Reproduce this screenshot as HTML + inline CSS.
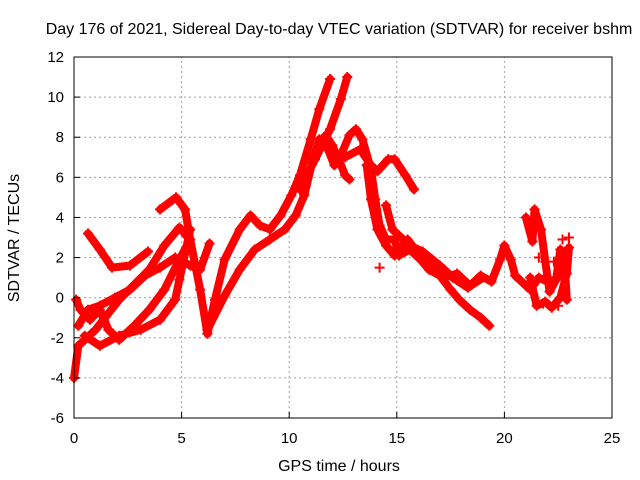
<!DOCTYPE html>
<html><head><meta charset="utf-8"><style>
body{margin:0;background:#fff}
svg{display:block;font-family:"Liberation Sans",sans-serif}
</style></head><body>
<svg id="chart" width="640" height="480" viewBox="0 0 640 480" xmlns="http://www.w3.org/2000/svg">
<rect width="640" height="480" fill="#fff"/>
<text x="339" y="34" text-anchor="middle" font-size="16">Day 176 of 2021, Sidereal Day-to-day VTEC variation (SDTVAR) for receiver bshm</text>
<text x="339" y="471" text-anchor="middle" font-size="16">GPS time / hours</text>
<text transform="translate(19,238) rotate(-90)" text-anchor="middle" font-size="16">SDTVAR / TECUs</text>
<g id="grid"></g><g id="marks"></g><g id="axes"></g>
</svg>
<script>
const xTicks=[0,5,10,15,20,25];
const yTicks=[-6,-4,-2,0,2,4,6,8,10,12];
const seriesA=[[0.65,3.2],[1.2,2.4],[1.77,1.5],[2.6,1.6],[3.44,2.3]];
const seriesB=[[0,-4],[0.2,-2.4],[1,-1.6],[2.1,-0.1],[3.5,1.4],[4.2,2.6],[4.9,3.5],[5.3,3.0]];
const seriesN=[[4.0,4.4],[4.74,5.0],[5.16,4.4],[5.4,2.9],[5.86,0.4],[6.2,-1.8],[6.55,-0.1],[7.0,1.9],[7.7,3.4],[8.2,4.1],[8.64,3.6],[9.1,3.4],[9.6,4.1],[10.1,5.1],[10.5,6.1],[11.0,7.9],[11.4,9.4],[11.9,10.9]];
const seriesC=[[0.1,-0.1],[0.3,-0.6],[0.74,-1.1],[1.2,-0.6],[1.6,-1.6],[2.1,-2.1],[2.8,-1.4],[3.5,-0.6],[4.2,0.4],[4.9,1.9],[5.4,2.9]];
const seriesD=[[0.2,-1.4],[0.65,-0.6],[1.2,-0.4],[1.9,0],[2.6,0.4],[3.3,1.1],[4.0,1.5],[4.7,2.0],[5.4,1.6],[5.86,1.4],[6.3,2.7]];
const seriesE=[[0.5,-1.9],[1.2,-2.4],[2.1,-1.9],[3.1,-1.6],[4.0,-1.1],[4.7,-0.1],[4.9,0.9],[5.2,2.4],[5.4,3.4]];
const seriesF=[[6.2,-1.6],[7.0,0.1],[7.7,1.4],[8.4,2.4],[9.1,2.9],[9.8,3.4],[10.3,4.1],[10.7,5.1],[11.1,6.9],[11.4,7.9],[11.8,7.4],[12.1,6.6],[12.4,7.1],[12.8,8.1],[13.1,8.4],[13.4,7.9],[13.8,6.4],[14.0,4.9],[14.2,3.6],[14.5,2.9],[14.9,2.9],[15.1,2.1],[15.6,2.4],[16.1,1.9],[16.5,1.4],[17.0,1.1],[17.5,0.4],[17.9,-0.1],[18.4,-0.6],[18.9,-1.0],[19.3,-1.4]];
const seriesG=[[10.5,5.4],[11.2,6.9],[11.9,8.4],[12.4,9.9],[12.7,11.0]];
const seriesH=[[11.3,7.4],[11.7,8.1],[12.0,7.6],[12.3,6.9],[12.6,6.1],[12.8,5.9]];
const seriesI=[[12.6,7.0],[13.3,7.4],[13.8,6.6],[14.1,6.3],[14.6,6.9],[14.9,6.9],[15.4,6.1],[15.8,5.4]];
const seriesJ=[[13.6,6.6],[13.8,4.9],[14.1,3.4],[14.5,2.6],[14.9,2.1],[15.5,2.9],[16.0,2.2],[16.6,1.6],[17.2,1.0],[17.8,1.2],[18.4,0.6],[18.9,1.1],[19.4,0.8],[19.8,1.9],[20.0,2.6],[20.3,1.9],[20.5,1.1],[21.0,0.6],[21.2,0.4],[21.6,1.0],[22.0,0.8],[22.4,0.9],[22.8,1.6]];
const seriesK=[[14.5,4.6],[14.8,3.4],[15.1,3.1],[15.6,2.6],[16.2,2.3],[17.0,1.6],[17.6,1.0],[18.3,0.5],[19.0,1.0]];
const seriesL=[[21.0,4.0],[21.3,2.8],[21.4,4.4],[21.7,3.4],[21.9,1.8],[22.1,0.3],[22.4,0.9],[22.6,2.4],[22.8,1.6],[22.9,-0.1]];
const seriesM=[[21.2,1.0],[21.5,-0.4],[21.9,-0.2],[22.2,-0.5],[22.6,0.0],[22.9,1.2],[23.0,2.5]];
const isolated=[[14.2,1.5],[21.6,2.0],[22.3,1.8],[22.7,2.9],[23.0,3.0],[21.8,-0.3],[22.5,-0.4]];
const allSeries=[seriesA,seriesB,seriesN,seriesC,seriesD,seriesE,seriesF,seriesG,seriesH,seriesI,seriesJ,seriesK,seriesL,seriesM];
const X0=74,X1=612,Y0=418,Y1=57,xMin=0,xMax=25,yMin=-6,yMax=12;
const sx=v=>X0+(v-xMin)/(xMax-xMin)*(X1-X0);
const sy=v=>Y0-(v-yMin)/(yMax-yMin)*(Y0-Y1);
const NS="http://www.w3.org/2000/svg";
const grid=document.getElementById('grid'),marks=document.getElementById('marks'),axes=document.getElementById('axes');
function mk(tag,attrs,parent){const e=document.createElementNS(NS,tag);for(const k in attrs)e.setAttribute(k,attrs[k]);parent.appendChild(e);return e;}
xTicks.forEach(t=>{
 if(t>xMin&&t<xMax){const g=mk('line',{x1:sx(t),x2:sx(t),y1:Y0,y2:Y1,stroke:'#a0a0a0','stroke-dasharray':'2,3'},grid);
 
 }
 const tk=mk('line',{x1:sx(t),x2:sx(t),y1:Y0,y2:Y0-6,stroke:'#000'},axes);
 
 
 const tx=mk('text',{x:sx(t),y:Y0+25,'text-anchor':'middle','font-size':'15'},axes);tx.textContent=t;
 
 
});
yTicks.forEach(t=>{
 if(t>yMin&&t<yMax){const g=mk('line',{x1:X0,x2:X1,y1:sy(t),y2:sy(t),stroke:'#a0a0a0','stroke-dasharray':'2,3'},grid);
 
 }
 const tk=mk('line',{x1:X0,x2:X0+6,y1:sy(t),y2:sy(t),stroke:'#000'},axes);
 
 
 const tx=mk('text',{x:X0-10,y:sy(t)+5,'text-anchor':'end','font-size':'15'},axes);tx.textContent=t;
 
 
});
const fr=mk('rect',{x:X0,y:Y1,width:X1-X0,height:Y0-Y1,fill:'none',stroke:'#000'},axes);


allSeries.forEach((s,i)=>{
 const p=mk('polyline',{points:s.map(d=>sx(d[0])+','+sy(d[1])).join(' '),fill:'none',stroke:'#ff0000','stroke-width':'8','stroke-linejoin':'round','stroke-linecap':'round'},marks);
 
 
});
allSeries.concat([isolated]).forEach(s=>s.forEach(d=>{
 const x=sx(d[0]),y=sy(d[1]);
 const m=mk('path',{d:`M${x-5},${y}H${x+5}M${x},${y-5}V${y+5}`,stroke:'#ff0000','stroke-width':'2'},marks);
 
 
}));
</script>
</body></html>
